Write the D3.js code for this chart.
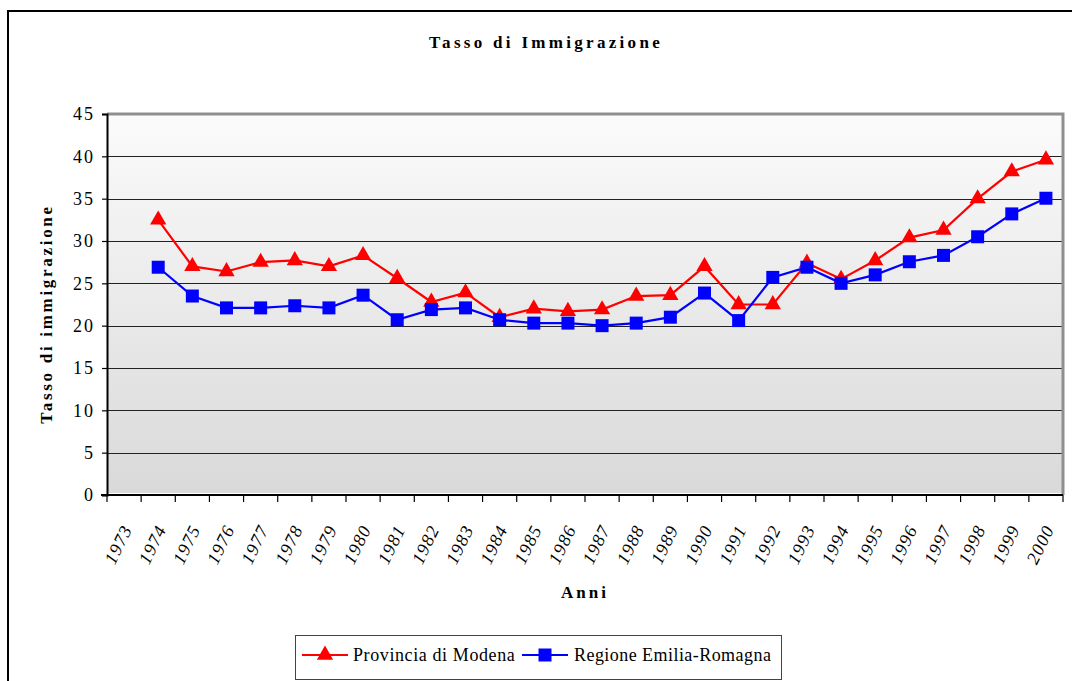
<!DOCTYPE html>
<html>
<head>
<meta charset="utf-8">
<script src="https://cdn.jsdelivr.net/npm/d3@7"></script>
<style>
  body { margin: 0; background: #fff; }
  svg { display: block; font-family: "Liberation Serif", "Times New Roman", serif; }
</style>
</head>
<body>
<div id="screen"></div>
<script>
// categories on the x axis (1973 has no value)
var years = ["1973","1974","1975","1976","1977","1978","1979","1980","1981","1982","1983","1984","1985","1986",
             "1987","1988","1989","1990","1991","1992","1993","1994","1995","1996","1997","1998","1999","2000"];

// Provincia di Modena, 1974..2000
var modena = [32.5, 27.0, 26.4, 27.5, 27.7, 27.0, 28.3, 25.6, 22.8, 23.9, 21.0, 22.0, 21.7,
              21.9, 23.5, 23.6, 27.0, 22.5, 22.5, 27.4, 25.5, 27.7, 30.4, 31.3, 35.0, 38.2, 39.6];

// Regione Emilia-Romagna, 1974..2000
var emilia = [26.9, 23.5, 22.1, 22.1, 22.35, 22.1, 23.6, 20.7, 21.9, 22.1, 20.7, 20.3, 20.3,
              20.0, 20.3, 21.0, 23.85, 20.6, 25.7, 26.9, 25.0, 26.0, 27.55, 28.3, 30.5, 33.2, 35.05];

var yTicks = [0, 5, 10, 15, 20, 25, 30, 35, 40, 45];

var W = 1072, H = 681;
var plot = {left: 107, right: 1063, top: 114, bottom: 495};
var serif = "'Liberation Serif', 'Times New Roman', serif";

var svg = d3.select("#screen").append("svg").attr("width", W).attr("height", H);

// outer frame
svg.append("path")
    .attr("d", "M8," + (H + 5) + " L8,11 L" + (W + 5) + ",11")
    .attr("fill", "none")
    .attr("stroke", "#000")
    .attr("stroke-width", 2);

var x = d3.scaleBand().domain(years).range([plot.left, plot.right]).padding(0);
var y = d3.scaleLinear().domain([0, 45]).range([plot.bottom, plot.top]);

// gradient background
var grad = svg.append("defs").append("linearGradient")
    .attr("id", "bg").attr("x1", 0).attr("y1", 0).attr("x2", 0).attr("y2", 1);
grad.append("stop").attr("offset", "0%").attr("stop-color", "#fbfbfb");
grad.append("stop").attr("offset", "100%").attr("stop-color", "#d9d9d9");

svg.append("rect")
    .attr("x", plot.left).attr("y", plot.top)
    .attr("width", plot.right - plot.left).attr("height", plot.bottom - plot.top - 2)
    .attr("fill", "url(#bg)");

// gridlines
svg.append("g").selectAll("line")
    .data(yTicks.filter(d => d > 0 && d < 45))
    .enter().append("line")
    .attr("x1", plot.left).attr("x2", plot.right)
    .attr("y1", d => Math.round(y(d)) + 0.5).attr("y2", d => Math.round(y(d)) + 0.5)
    .attr("stroke", "#222").attr("stroke-width", 1.2);

// gray frame top/right
svg.append("path")
    .attr("d", "M" + plot.left + "," + plot.top + " L" + plot.right + "," + plot.top + " L" + plot.right + "," + plot.bottom)
    .attr("fill", "none").attr("stroke", "#8f8f8f").attr("stroke-width", 3);

// y axis
var yAxis = svg.append("g")
    .attr("transform", "translate(" + plot.left + ",0)")
    .call(d3.axisLeft(y).tickValues(yTicks).tickSize(5).tickPadding(7));
yAxis.attr("font-family", serif).attr("font-size", 18);
yAxis.select(".domain").attr("stroke", "#000").attr("stroke-width", 2);
yAxis.selectAll(".tick line").attr("stroke", "#000").attr("stroke-width", 1.2);
yAxis.selectAll(".tick text")
    .style("letter-spacing", "2px")
    .attr("fill", "#000");

// x axis (ticks on band edges)
var xg = svg.append("g").attr("transform", "translate(0," + plot.bottom + ")");
xg.append("line")
    .attr("x1", plot.left - 6).attr("x2", plot.right)
    .attr("stroke", "#000").attr("stroke-width", 2);
xg.selectAll("line.tk")
    .data(years.concat(["end"]))
    .enter().append("line").attr("class", "tk")
    .attr("x1", (d, i) => plot.left + i * x.bandwidth())
    .attr("x2", (d, i) => plot.left + i * x.bandwidth())
    .attr("y1", 0).attr("y2", 7)
    .attr("stroke", "#000").attr("stroke-width", 1.2);
xg.selectAll("text")
    .data(years)
    .enter().append("text")
    .attr("transform", d => "translate(" + (x(d) + x.bandwidth() / 2 + 3) + ",31) rotate(-64)")
    .attr("text-anchor", "end")
    .attr("dy", "0.35em")
    .attr("font-family", serif)
    .style("font-size", "18px")
    .style("font-style", "italic")
    .style("letter-spacing", "1.2px")
    .text(d => d);

// titles
svg.append("text")
    .attr("x", 546).attr("y", 48)
    .attr("text-anchor", "middle")
    .style("font-size", "17px").style("font-weight", "bold").style("letter-spacing", "3.3px")
    .text("Tasso di Immigrazione");

svg.append("text")
    .attr("transform", "translate(52,314) rotate(-90)")
    .attr("text-anchor", "middle")
    .style("font-size", "17px").style("font-weight", "bold").style("letter-spacing", "2.7px")
    .text("Tasso di immigrazione");

svg.append("text")
    .attr("x", 585).attr("y", 598)
    .attr("text-anchor", "middle")
    .style("font-size", "17px").style("font-weight", "bold").style("letter-spacing", "3px")
    .text("Anni");

// series
var series = [
    {name: "Provincia di Modena", values: modena, color: "#ff0000", marker: "triangle"},
    {name: "Regione Emilia-Romagna", values: emilia, color: "#0000ff", marker: "square"}
];

var line = d3.line()
    .x(d => x(d.year) + x.bandwidth() / 2)
    .y(d => y(d.v));

var markerPath = function(type) {
    if (type == "triangle") {
        return d3.symbol().type(d3.symbolTriangle).size(115)();
    }
    return "M-6.5,-6.5 L6.5,-6.5 L6.5,6.5 L-6.5,6.5 Z";
};

series.forEach(s => {
    var pts = s.values.map((v, i) => ({year: years[i + 1], v: v}));
    svg.append("path")
        .datum(pts)
        .attr("d", line)
        .attr("fill", "none")
        .attr("stroke", s.color)
        .attr("stroke-width", 2.2);
    svg.append("g").selectAll("path")
        .data(pts)
        .enter().append("path")
        .attr("transform", d => "translate(" + (x(d.year) + x.bandwidth() / 2) + "," + y(d.v) + ")")
        .attr("d", markerPath(s.marker))
        .attr("fill", s.color);
});

// legend
var lg = svg.append("g");
lg.append("rect")
    .attr("x", 295.5).attr("y", 635.5).attr("width", 486).attr("height", 44)
    .attr("fill", "#fff").attr("stroke", "#444").attr("stroke-width", 1);

var legendItems = [
    {s: series[0], x0: 302, tx: 353, sp: "0.6px"},
    {s: series[1], x0: 522, tx: 574, sp: "0.45px"}
];
legendItems.forEach(it => {
    lg.append("line")
        .attr("x1", it.x0).attr("x2", it.x0 + 46)
        .attr("y1", 655).attr("y2", 655)
        .attr("stroke", it.s.color).attr("stroke-width", 2.2);
    lg.append("path")
        .attr("transform", "translate(" + (it.x0 + 23) + ",655)")
        .attr("d", markerPath(it.s.marker))
        .attr("fill", it.s.color);
    lg.append("text")
        .attr("x", it.tx).attr("y", 661)
        .style("font-size", "18px").style("letter-spacing", it.sp)
        .text(it.s.name);
});
</script>
</body>
</html>
